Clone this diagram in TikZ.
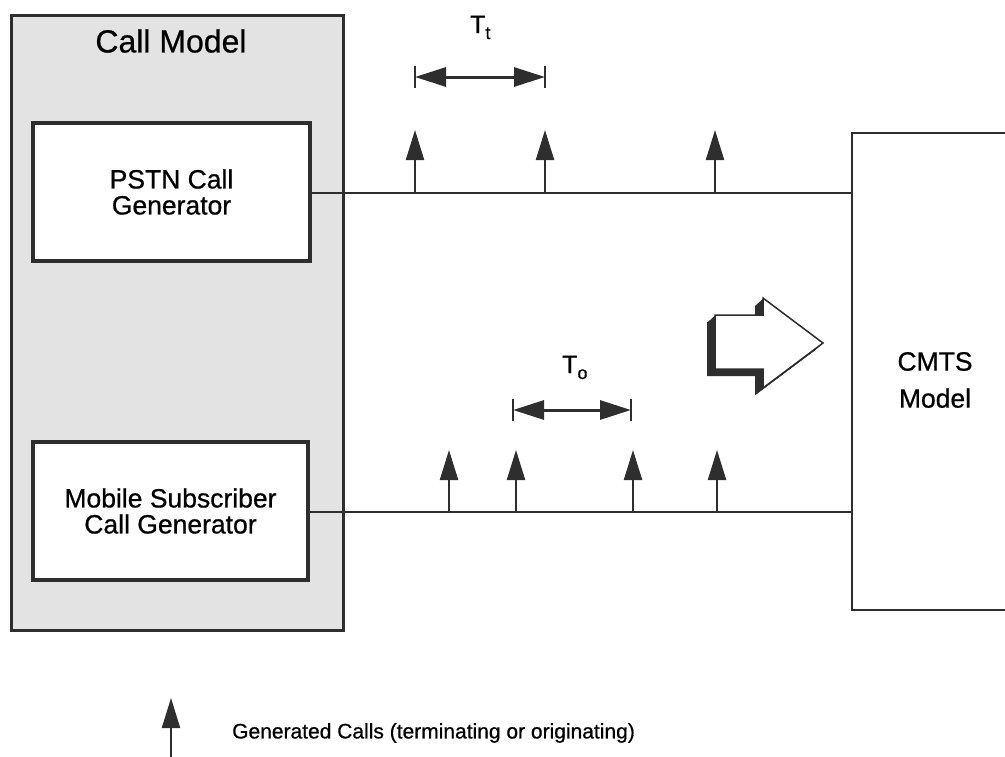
\documentclass[tikz,border=0pt]{standalone}
\usepackage{fontspec}
\setmainfont{Liberation Sans}[FakeBold=0.7]
\usetikzlibrary{arrows.meta}

\definecolor{ink}{HTML}{2E2E2E}
\definecolor{panel}{HTML}{E3E3E3}

\tikzset{
  modelbox/.style={draw=ink, line width=3pt, fill=panel, rectangle, inner sep=0pt},
  genbox/.style={draw=ink, line width=3.2pt, fill=white, rectangle, inner sep=0pt,
    align=center, font=\fontsize{26.5}{26}\selectfont},
  sinkbox/.style={draw=ink, line width=2pt, fill=white, rectangle, inner sep=0pt},
  feed/.style={draw=ink, line width=2pt},
  callarrow/.style={draw=ink, line width=2.2pt,
    -{Triangle[width=18pt,length=30pt,fill=ink]}},
  spanarrow/.style={draw=ink, line width=3pt,
    {Triangle[width=19pt,length=31pt,fill=ink]}-{Triangle[width=19pt,length=31pt,fill=ink]}},
  spantick/.style={draw=ink, line width=2pt},
  period/.style={inner sep=0pt, font=\fontsize{25}{25}\selectfont},
}

\newcommand{\subtext}[1]{\raisebox{-6pt}{\fontsize{18}{18}\selectfont #1}}

\begin{document}
\begin{tikzpicture}[x=1pt, y=-1pt]
  \useasboundingbox (0,0) rectangle (1005,756);
  \clip (0,0) rectangle (1005,756);

  % call model with its two generators
  \node[modelbox, minimum width=332pt, minimum height=615pt] (callmodel) at (177,322.5) {};
  \node[inner sep=0pt, font=\fontsize{32}{32}\selectfont] (cmlabel) at (171,41) {Call Model};
  \node[genbox, minimum width=277pt, minimum height=138pt] (pstn) at (171.5,192)
    {PSTN Call\\Generator};
  \node[genbox, minimum width=275pt, minimum height=138pt] (mobile) at (170.5,511)
    {Mobile Subscriber\\Call Generator};

  % CMTS model, running off the right edge
  \node[sinkbox, minimum width=170pt, minimum height=477pt] (cmts) at (937,371.5) {};
  \node[inner sep=0pt, align=center, font=\fontsize{26.5}{37}\selectfont] (cmtslabel)
    at (935,380) {CMTS\\Model};

  % call streams
  \draw[feed] (pstn.east |- 0,193) coordinate (tstart) -- (cmts.west |- 0,193) coordinate (tend);
  \draw[feed] (mobile.east |- 0,512) coordinate (bstart) -- (cmts.west |- 0,512) coordinate (bend);

  % terminating calls
  \foreach \x [count=\i] in {415,545,715} {
    \coordinate (tbase\i) at (\x,193);
    \coordinate (ttip\i) at (\x,130);
    \draw[callarrow] (tbase\i) -- (ttip\i);
  }
  % originating calls
  \foreach \x [count=\i] in {449,516,633,717} {
    \coordinate (bbase\i) at (\x,512);
    \coordinate (btip\i) at (\x,450);
    \draw[callarrow] (bbase\i) -- (btip\i);
  }

  % inter-arrival time T_t
  \coordinate (tl) at (415,77);
  \coordinate (tr) at (545,77);
  \draw[spantick] ([yshift=-11pt]tl) -- ([yshift=11pt]tl);
  \draw[spantick] ([yshift=-11pt]tr) -- ([yshift=11pt]tr);
  \draw[spanarrow] (tl) -- (tr);
  \node[period, anchor=base west] (ttlabel) at (470,33) {T\subtext{t}};

  % inter-arrival time T_o
  \coordinate (ol) at (513,410);
  \coordinate (or) at (631,410);
  \draw[spantick] ([yshift=-11pt]ol) -- ([yshift=11pt]ol);
  \draw[spantick] ([yshift=-11pt]or) -- ([yshift=11pt]or);
  \draw[spanarrow] (ol) -- (or);
  \node[period, anchor=base west] (tolabel) at (562,373) {T\subtext{o}};

  % flow arrow towards the CMTS, with extruded shadow
  \foreach \k in {1,...,8} {
    \fill[ink, shift={(-\k,0.9*\k)}]
      (715,315) -- (763,315) -- (763,298) -- (823,343) -- (763,388) -- (763,369) -- (715,369) -- cycle;
  }
  \draw[ink, line width=1.5pt, fill=white, line join=miter]
    (715,315) -- (763,315) -- (763,298) -- (823,343) -- (763,388) -- (763,369) -- (715,369) -- cycle;

  % legend
  \coordinate (lgbase) at (171,760);
  \coordinate (lgtip) at (171,698);
  \draw[callarrow] (lgbase) -- (lgtip);
  \node[inner sep=0pt, anchor=west, font=\fontsize{21}{21}\selectfont] (legend) at (232,733)
    {Generated Calls (terminating or originating)};
\end{tikzpicture}
\end{document}
